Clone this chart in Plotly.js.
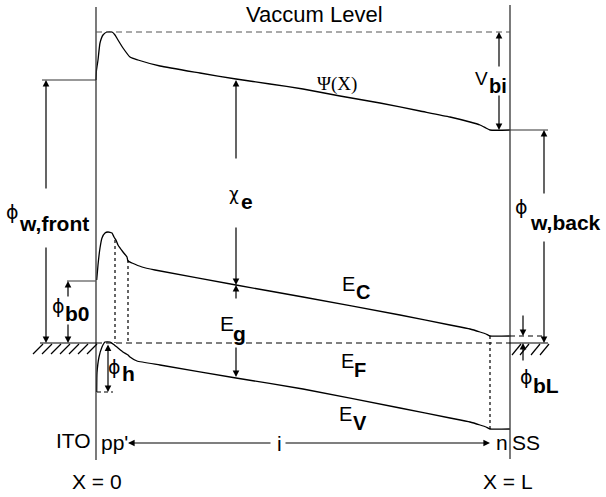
<!DOCTYPE html>
<html><head><meta charset="utf-8">
<script src="https://cdn.plot.ly/plotly-3.0.1.min.js"></script>
<style>html,body{margin:0;padding:0;background:#fff}</style>
</head><body><div id="c" style="width:606px;height:497px"></div>
<script>
// Band profiles (diagram coordinates)
const psiX = [96,96.5,98,100,103,107,112,115,118,123,130,138,160,200,236,270,303,340,380,420,450,470,480,486,490,510];
const psiY = [80,70,60,43,35,32,32,35,40,48,57,60,66,73,79,84,89,96,103,111,117,122,125,128,130,130];
const ecX = [96.7,98,100,102,105,108,112,114,116,118,123,127,128,132,142,155,236,303,400,450,470,480,486,490,510];
const ecY = [280,265,248,238,233,232,233,237,240,245,252,257,261,263,267,270,285,297,315,325,329,332,334,336,336];
const evX = [96.7,97,99,102,105,110,113,118,123,128,130,137,160,236,303,400,450,470,480,486,490,510];
const evY = [392,373,357,347,342,342,344,348,352,355,357,361,365,378,389,408,418,422,425,427,429,429];

// Levels
const vacuumY = 32, fermiY = 343, leftMetalY = 80, rightMetalY = 130, phiB0Y = 281;
const frontX = 96, backX = 510;
const leftHatch = [33,42,51,60,69,78,87];
const rightHatch = [512,520,531,540];

const lab = {family:'Liberation Sans, Arial, sans-serif', color:'#000'};
const sym = 'DejaVu Sans, sans-serif';
const traces = [
  {x:psiX,y:psiY,mode:'lines',line:{color:'#000',width:1.3,shape:'spline',smoothing:0.5},hoverinfo:'skip'},
  {x:ecX,y:ecY,mode:'lines',line:{color:'#000',width:1.3,shape:'spline',smoothing:0.4},hoverinfo:'skip'},
  {x:evX,y:evY,mode:'lines',line:{color:'#000',width:1.3,shape:'spline',smoothing:0.4},hoverinfo:'skip'}
];

const shapes = [];
function seg(x0,y0,x1,y1,opt){opt=opt||{};shapes.push({type:'line',xref:'x',yref:'y',x0,y0,x1,y1,line:{color:opt.c||'#000',width:opt.w||1.2,dash:opt.d||'solid'}});}
seg(frontX,7,frontX,460,{c:'#333',w:1.3});
seg(backX,5,backX,459,{c:'#333',w:1.3});
seg(frontX,vacuumY,backX,vacuumY,{c:'#555',d:'6px,4px'});
seg(frontX,fermiY,backX,fermiY,{d:'6px,4px'});
seg(40,fermiY,frontX,fermiY);
seg(backX,fermiY,548,fermiY);
seg(42,leftMetalY,frontX,leftMetalY,{c:'#333'});
seg(backX,rightMetalY,548,rightMetalY,{c:'#333'});
seg(67,phiB0Y,frontX,phiB0Y,{c:'#555'});
seg(backX,ecY[ecY.length-1],545,ecY[ecY.length-1],{d:'5px,4px'});
seg(115,240,115,fermiY,{d:'3px,3px'});
seg(128,260,128,fermiY,{d:'3px,3px'});
seg(490,ecY[ecY.length-1],490,evY[evY.length-1],{d:'3px,3px'});
seg(97,evY[0],113,evY[0],{d:'4px,3px'});
leftHatch.forEach(h=>seg(h,354,h+10,fermiY+1));
rightHatch.forEach(h=>seg(h,355,h+9,fermiY+1));

const ann = [];
function arrow(x0,y0,x1,y1,both){ann.push({x:x1,y:y1,ax:x0,ay:y0,xref:'x',yref:'y',axref:'x',ayref:'y',text:'',showarrow:true,arrowhead:2,startarrowhead:2,arrowside:both?'end+start':'end',arrowsize:1.1,arrowwidth:1.2,arrowcolor:'#000'});}
arrow(46,190,46,leftMetalY); arrow(46,246,46,fermiY);
arrow(236,160,236,leftMetalY); arrow(236,226,236,285);
arrow(236,300,236,285); arrow(236,346,236,377);
arrow(499,68,499,vacuumY); arrow(499,94,499,rightMetalY);
arrow(544,195,544,rightMetalY); arrow(544,240,544,fermiY);
arrow(68,298,68,phiB0Y); arrow(68,323,68,fermiY);
arrow(108,fermiY,108,evY[0],true);
arrow(523,314,523,336); arrow(523,362,523,fermiY);
arrow(272,443,128,443); arrow(284,443,490,443);

function txt(t,x,y,size,fam){ann.push({text:t,x,y,xref:'x',yref:'y',showarrow:false,xanchor:'center',yanchor:'middle',font:{family:fam||lab.family,size:size,color:'#000'}});}
txt('Vaccum Level',314,14,22);
txt('Ψ(X)',337,84,19,'Liberation Serif, Times New Roman, serif');
txt('ϕ',12,212,19,sym); txt('<b>w,front</b>',54,223,21);
txt('χ',234,194,17,sym); txt('<b>e</b>',247,201,21);
txt('V',481,78,19); txt('<b>bi</b>',498,86,20);
txt('ϕ',521,207,19,sym); txt('<b>w,back</b>',565,222,21);
txt('E',348,284,20); txt('<b>C</b>',363,292,20);
txt('E',227,323,21); txt('<b>g</b>',239,333,21);
txt('ϕ',58,306,19,sym); txt('<b>b0</b>',77,313,21);
txt('ϕ',114,367,19,sym); txt('<b>h</b>',128,373,21);
txt('E',347,361,20); txt('<b>F</b>',360,370,20);
txt('ϕ',526,377,19,sym); txt('<b>bL</b>',546,385,21);
txt('E',345,414,20); txt('<b>V</b>',360,423,20);
txt('ITO',73,440,21); txt("pp'",114,442,21); txt('i',279,443,21);
txt('n',502,442,21); txt('SS',526,442,21);
txt('X = 0',97,481,21); txt('X = L',508,481,21);

Plotly.newPlot('c',traces,{
  width:606,height:497,margin:{l:0,r:0,t:0,b:0},showlegend:false,
  paper_bgcolor:'#fff',plot_bgcolor:'#fff',
  xaxis:{range:[0,606],visible:false,fixedrange:true},
  yaxis:{range:[497,0],visible:false,fixedrange:true},
  shapes:shapes,annotations:ann
},{displayModeBar:false,staticPlot:true});
</script></body></html>
